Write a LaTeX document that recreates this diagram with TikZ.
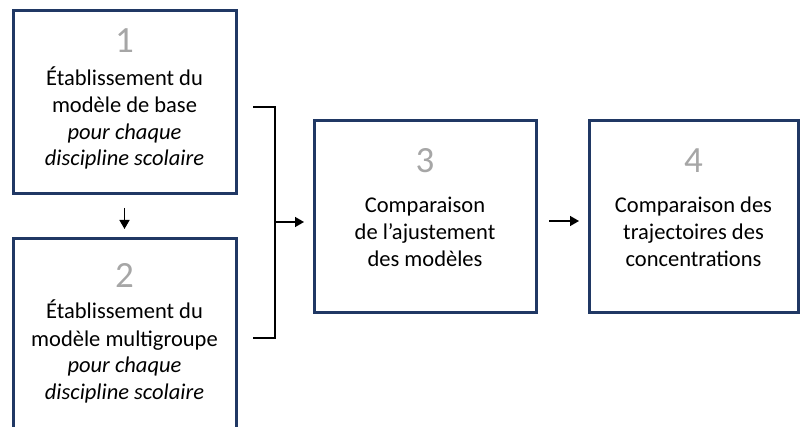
\documentclass[tikz,border=0pt]{standalone}
\usepackage{fontspec}
\setmainfont{Carlito}
\usetikzlibrary{arrows.meta}
\definecolor{navy}{HTML}{203864}
\definecolor{numgray}{HTML}{A6A6A6}
\begin{document}
\begin{tikzpicture}[x=1pt,y=-1pt,
  box/.style={draw=navy, line width=3pt, anchor=north west, inner sep=0pt, outer sep=0pt},
  num/.style={text=numgray, font=\fontsize{37}{40}\selectfont, anchor=base, inner sep=0pt},
  txt/.style={text=black, font=\fontsize{22.5}{26.7}\selectfont, anchor=base, inner sep=0pt},
  conn/.style={line width=1.4pt, black},
  arr/.style={conn, -{Triangle[length=9pt,width=10pt]}}]
\useasboundingbox (0,0) rectangle (800,427);
\clip (0,0) rectangle (800,427);
% boxes
\node[box, minimum width=223pt, minimum height=183pt] (b1) at (13,11) {};
\node[box, minimum width=223pt, minimum height=215pt] (b2) at (13,239) {};
\node[box, minimum width=222pt, minimum height=192pt] (b3) at (314,121) {};
\node[box, minimum width=209pt, minimum height=192pt] (b4) at (589,121) {};
% box 1 text
\node[num] (n1) at (124.5,53) {1};
\node[txt] (t1a) at (124.5,86) {Établissement du};
\node[txt] (t1b) at (124.5,112.7) {modèle de base};
\node[txt] (t1c) at (124.5,139.3) {\itshape pour chaque};
\node[txt] (t1d) at (124.5,166) {\itshape discipline scolaire};
% box 2 text
\node[num] (n2) at (124.5,288) {2};
\node[txt] (t2a) at (124.5,319) {Établissement du};
\node[txt] (t2b) at (124.5,346) {modèle multigroupe};
\node[txt] (t2c) at (124.5,372.5) {\itshape pour chaque};
\node[txt] (t2d) at (124.5,399) {\itshape discipline scolaire};
% box 3 text
\node[num] (n3) at (425,172.7) {3};
\node[txt] (t3a) at (425,213) {Comparaison};
\node[txt] (t3b) at (425,240) {de l’ajustement};
\node[txt] (t3c) at (425,266.7) {des modèles};
% box 4 text
\node[num] (n4) at (693.5,172.7) {4};
\node[txt] (t4a) at (693.5,213) {Comparaison des};
\node[txt] (t4b) at (693.5,240) {trajectoires des};
\node[txt] (t4c) at (693.5,266.7) {concentrations};
% connectors
\draw[arr, shorten <=14pt, shorten >=10pt] (b1.south -| 124.5,0) -- (b2.north -| 124.5,0);
\coordinate (bt) at (253,107);
\coordinate (bb) at (253,338);
\coordinate (bm) at (275,222);
\draw[conn] (bt) -- (275,107) -- (275,338) -- (bb);
\draw[arr, shorten >=10pt] (bm) -- (bm -| b3.west);
\draw[arr, shorten <=13pt, shorten >=10pt] (b3.east |- 0,221) -- (b4.west |- 0,221);
\end{tikzpicture}
\end{document}
